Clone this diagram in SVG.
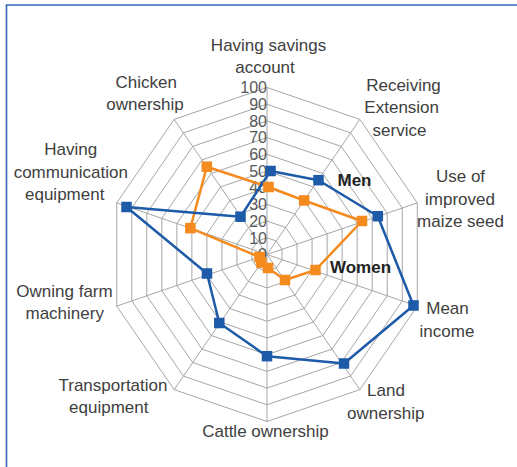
<svg xmlns="http://www.w3.org/2000/svg" width="517" height="467" viewBox="0 0 517 467">
<style>
.grid{fill:none;stroke:#a6a6a6;stroke-width:1}
.tick{font-family:"Liberation Sans",Arial,sans-serif;font-size:16px;fill:#595959;text-anchor:end}
.lbl{font-family:"Liberation Sans",Arial,sans-serif;font-size:17px;fill:#404040;text-anchor:middle}
.leg{font-family:"Liberation Sans",Arial,sans-serif;font-size:17px;font-weight:bold;fill:#222}
.men{fill:none;stroke:#1d5aa8;stroke-width:2.5;stroke-linejoin:round}
.women{fill:none;stroke:#f58a1f;stroke-width:2.5;stroke-linejoin:round}
.mm{fill:#1d5aa8}
.wm{fill:#f58a1f}
</style>
<rect width="517" height="467" fill="#ffffff"/>
<g id="frame">
<line x1="6.5" y1="5" x2="6.5" y2="467" stroke="#3467b8" stroke-width="1.6"/>
<line x1="5.7" y1="5" x2="517" y2="5" stroke="#3467b8" stroke-width="1.6"/>
</g>
<g id="grid">
<polygon class="grid" points="267,237.8 276.29,240.99 282.03,249.34 282.03,259.66 276.29,268.01 267,271.2 257.71,268.01 251.97,259.66 251.97,249.34 257.71,240.99"/>
<polygon class="grid" points="267,221.1 285.57,227.48 297.05,244.18 297.05,264.82 285.57,281.52 267,287.9 248.43,281.52 236.95,264.82 236.95,244.18 248.43,227.48"/>
<polygon class="grid" points="267,204.4 294.86,213.97 312.08,239.02 312.08,269.98 294.86,295.03 267,304.6 239.14,295.03 221.92,269.98 221.92,239.02 239.14,213.97"/>
<polygon class="grid" points="267,187.7 304.15,200.46 327.11,233.86 327.11,275.14 304.15,308.54 267,321.3 229.85,308.54 206.89,275.14 206.89,233.86 229.85,200.46"/>
<polygon class="grid" points="267,171 313.44,186.95 342.14,228.7 342.14,280.3 313.44,322.06 267,338 220.57,322.06 191.87,280.3 191.87,228.7 220.57,186.95"/>
<polygon class="grid" points="267,154.3 322.72,173.43 357.16,223.53 357.16,285.47 322.72,335.57 267,354.7 211.28,335.57 176.84,285.47 176.84,223.53 211.28,173.43"/>
<polygon class="grid" points="267,137.6 332.01,159.92 372.19,218.37 372.19,290.63 332.01,349.08 267,371.4 201.99,349.08 161.81,290.63 161.81,218.37 201.99,159.92"/>
<polygon class="grid" points="267,120.9 341.3,146.41 387.22,213.21 387.22,295.79 341.3,362.59 267,388.1 192.7,362.59 146.78,295.79 146.78,213.21 192.7,146.41"/>
<polygon class="grid" points="267,104.2 350.58,132.9 402.24,208.05 402.24,300.95 350.58,376.1 267,404.8 183.42,376.1 131.76,300.95 131.76,208.05 183.42,132.9"/>
<polygon class="grid" points="267,87.5 359.87,119.39 417.27,202.89 417.27,306.11 359.87,389.61 267,421.5 174.13,389.61 116.73,306.11 116.73,202.89 174.13,119.39"/>
<path class="grid" d="M267,254.5L267,87.5M267,254.5L359.87,119.39M267,254.5L417.27,202.89M267,254.5L417.27,306.11M267,254.5L359.87,389.61M267,254.5L267,421.5M267,254.5L174.13,389.61M267,254.5L116.73,306.11M267,254.5L116.73,202.89M267,254.5L174.13,119.39"/>
</g>
<g id="ticks">
<text class="tick" x="267" y="260.2">0</text>
<text class="tick" x="267" y="243.5">10</text>
<text class="tick" x="267" y="226.8">20</text>
<text class="tick" x="267" y="210.1">30</text>
<text class="tick" x="267" y="193.4">40</text>
<text class="tick" x="267" y="176.7">50</text>
<text class="tick" x="267" y="160">60</text>
<text class="tick" x="267" y="143.3">70</text>
<text class="tick" x="267" y="126.6">80</text>
<text class="tick" x="267" y="109.9">90</text>
<text class="tick" x="267" y="93.2">100</text>
</g>
<g id="labels">
<g id="axis-savings"><text class="lbl" x="268.5" y="50.5">Having savings</text><text class="lbl" x="265" y="72.5">account</text></g>
<g id="axis-extension"><text class="lbl" x="403.5" y="90.5">Receiving</text><text class="lbl" x="401.7" y="113">Extension</text><text class="lbl" x="399.5" y="135.5">service</text></g>
<g id="axis-maize"><text class="lbl" x="460.5" y="182">Use of</text><text class="lbl" x="460" y="204.5">improved</text><text class="lbl" x="460.5" y="227">maize seed</text></g>
<g id="axis-income"><text class="lbl" x="447.5" y="314">Mean</text><text class="lbl" x="447" y="337">income</text></g>
<g id="axis-land"><text class="lbl" x="386" y="396">Land</text><text class="lbl" x="385.8" y="418.5">ownership</text></g>
<g id="axis-cattle"><text class="lbl" x="265.5" y="437">Cattle ownership</text></g>
<g id="axis-transport"><text class="lbl" x="113" y="390.5">Transportation</text><text class="lbl" x="108.8" y="413">equipment</text></g>
<g id="axis-machinery"><text class="lbl" x="64.5" y="296.5">Owning farm</text><text class="lbl" x="64.7" y="319">machinery</text></g>
<g id="axis-communication"><text class="lbl" x="70.8" y="155">Having</text><text class="lbl" x="70.8" y="177.5">communication</text><text class="lbl" x="64.7" y="200">equipment</text></g>
<g id="axis-chicken"><text class="lbl" x="146.3" y="87.5">Chicken</text><text class="lbl" x="145" y="110">ownership</text></g>
</g>
<g id="connectors">
<polygon id="series-women-line" class="women" points="268.5,187 304.15,200.46 362,221 315.5,270 285,280 268,268 261.4,262.6 259.5,257 190.36,228.18 206.8,166.7"/>
<polygon id="series-men-line" class="men" points="270.5,171 318.5,180.2 377.8,216.2 413.5,305.5 344,363.5 267,356.2 219.3,323 207,273.5 126.5,207 240.5,216.7"/>
</g>
<g id="women-markers" class="wm">
<rect x="263.25" y="181.75" width="10.5" height="10.5"/>
<rect x="298.9" y="195.2" width="10.5" height="10.5"/>
<rect x="356.75" y="215.75" width="10.5" height="10.5"/>
<rect x="310.25" y="264.75" width="10.5" height="10.5"/>
<rect x="279.75" y="274.75" width="10.5" height="10.5"/>
<rect x="262.75" y="262.75" width="10.5" height="10.5"/>
<rect x="256.15" y="257.35" width="10.5" height="10.5"/>
<rect x="254.25" y="251.75" width="10.5" height="10.5"/>
<rect x="185.1" y="222.9" width="10.5" height="10.5"/>
<rect x="201.55" y="161.45" width="10.5" height="10.5"/>
</g>
<g id="men-markers" class="mm">
<rect x="265.25" y="165.75" width="10.5" height="10.5"/>
<rect x="313.25" y="174.95" width="10.5" height="10.5"/>
<rect x="372.55" y="210.95" width="10.5" height="10.5"/>
<rect x="408.25" y="300.25" width="10.5" height="10.5"/>
<rect x="338.75" y="358.25" width="10.5" height="10.5"/>
<rect x="261.75" y="350.95" width="10.5" height="10.5"/>
<rect x="214.05" y="317.75" width="10.5" height="10.5"/>
<rect x="201.75" y="268.25" width="10.5" height="10.5"/>
<rect x="121.25" y="201.75" width="10.5" height="10.5"/>
<rect x="235.25" y="211.45" width="10.5" height="10.5"/>
</g>
<g id="legend">
<text class="leg" x="337.5" y="185.5">Men</text>
<text class="leg" x="330" y="273">Women</text>
</g>
</svg>
